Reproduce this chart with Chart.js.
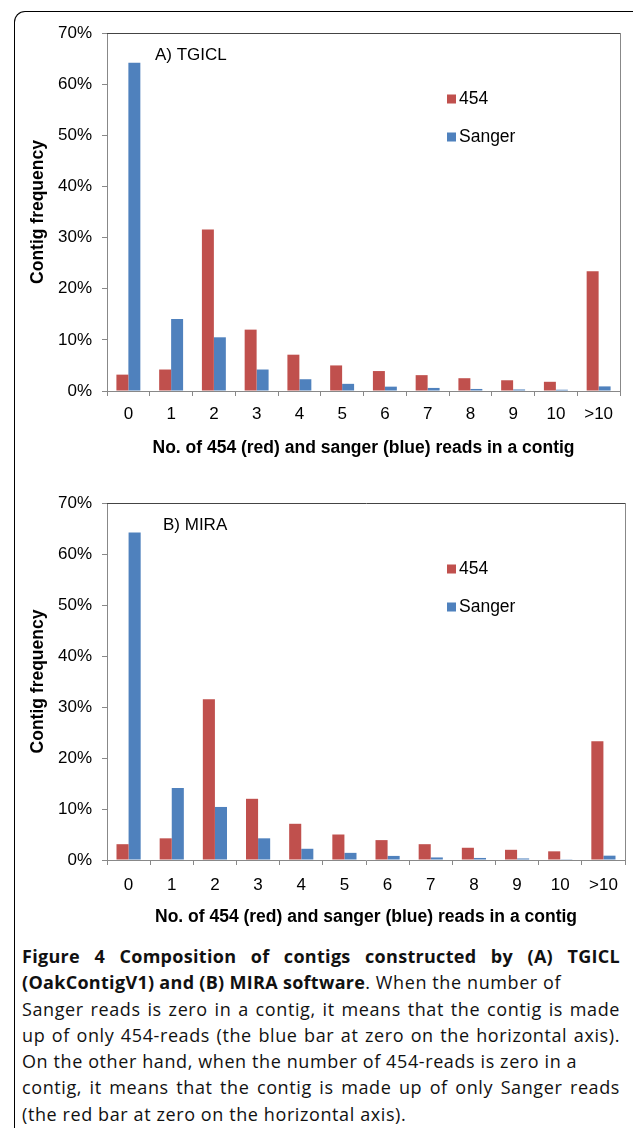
<!DOCTYPE html>
<html>
<head>
<meta charset="utf-8">
<script src="https://cdn.jsdelivr.net/npm/chart.js@4"></script>
<style>
  html, body { margin: 0; padding: 0; background: #fff; }
  body { width: 633px; height: 1128px; position: relative; overflow: hidden; }
  .frame {
    position: absolute; left: 14px; top: 11px; width: 700px; height: 1200px;
    border-top: 1px solid #000; border-left: 1px solid #000;
    border-top-left-radius: 11px; pointer-events: none;
  }
  .panel { position: absolute; left: 0; width: 633px; }
  #panelA { top: 0; height: 470px; }
  #panelB { top: 470px; height: 460px; }
  .caption {
    position: absolute; left: 22px; top: 943px; width: 598px;
    font-family: "Open Sans", "Noto Sans", sans-serif;
    font-size: 18px; line-height: 26.3px; letter-spacing: 0.6px; color: #111;
  }
  .caption div { height: 26.3px; }
  .caption .full { text-align: justify; text-align-last: justify; }
  .caption b { font-weight: 700; letter-spacing: 0.3px; }
</style>
</head>
<body>
<div class="frame"></div>
<div class="panel" id="panelA"><canvas id="chartA"></canvas></div>
<div class="panel" id="panelB"><canvas id="chartB"></canvas></div>
<div class="caption">
  <div class="full"><b>Figure 4 Composition of contigs constructed by (A) TGICL</b></div>
  <div><b>(OakContigV1) and (B) MIRA software</b>. When the number of</div>
  <div class="full">Sanger reads is zero in a contig, it means that the contig is made</div>
  <div class="full">up of only 454-reads (the blue bar at zero on the horizontal axis).</div>
  <div>On the other hand, when the number of 454-reads is zero in a</div>
  <div class="full">contig, it means that the contig is made up of only Sanger reads</div>
  <div>(the red bar at zero on the horizontal axis).</div>
</div>
<script>
// x categories: number of reads in a contig
const categories = ['0', '1', '2', '3', '4', '5', '6', '7', '8', '9', '10', '>10'];
const yTicks = [0, 10, 20, 30, 40, 50, 60, 70];

// A) TGICL, contig frequency in %
const tgicl454 = [3.2, 4.2, 31.6, 12.0, 7.1, 5.0, 3.9, 3.1, 2.5, 2.1, 1.8, 23.4];
const tgiclSanger = [64.2, 14.1, 10.5, 4.2, 2.3, 1.4, 0.85, 0.6, 0.4, 0.3, 0.25, 0.9];

// B) MIRA, contig frequency in %
const mira454 = [3.1, 4.25, 31.5, 12.0, 7.1, 5.0, 3.9, 3.1, 2.4, 2.0, 1.7, 23.3];
const miraSanger = [64.2, 14.1, 10.4, 4.25, 2.2, 1.4, 0.8, 0.5, 0.4, 0.3, 0.05, 0.85];

const RED = '#C0504D';
const BLUE = '#4F81BD';
const FONT = '"Liberation Sans", Arial, sans-serif';

// plot frame, panel label and in-plot legend
const decor = {
  id: 'decor',
  afterDatasetsDraw(chart, args, opts) {
    const { ctx, chartArea: a } = chart;
    ctx.save();
    ctx.lineWidth = 1;
    ctx.strokeStyle = '#444';
    ctx.beginPath();
    ctx.moveTo(a.left, a.top + 0.5);
    ctx.lineTo(a.right + 1, a.top + 0.5);
    ctx.stroke();
    ctx.strokeStyle = '#888';
    ctx.beginPath();
    ctx.moveTo(a.right + 0.5, a.top);
    ctx.lineTo(a.right + 0.5, a.bottom);
    ctx.stroke();

    ctx.fillStyle = '#000';
    ctx.textBaseline = 'middle';
    ctx.font = '17px ' + FONT;
    ctx.fillText(opts.label, opts.labelX, a.top + 22);

    ctx.font = '17.5px ' + FONT;
    chart.data.datasets.forEach((ds, i) => {
      const y = a.top + 66 + i * 38;
      ctx.fillStyle = ds.backgroundColor;
      ctx.fillRect(447, y - 4.5, 9, 9);
      ctx.fillStyle = '#000';
      ctx.fillText(ds.label, 459, y);
    });
    ctx.restore();
  }
};

function makeChart(id, label, labelX, d454, dSanger, g) {
  return new Chart(document.getElementById(id), {
    type: 'bar',
    data: {
      labels: categories,
      datasets: [
        { label: '454', data: d454, backgroundColor: RED },
        { label: 'Sanger', data: dSanger, backgroundColor: BLUE }
      ]
    },
    options: {
      responsive: true,
      maintainAspectRatio: false,
      animation: false,
      devicePixelRatio: 1,
      barPercentage: 1,
      categoryPercentage: 0.56,
      layout: { padding: { top: 33, right: g.right, bottom: 0, left: 0 } },
      plugins: {
        legend: { display: false },
        tooltip: { enabled: false },
        decor: { label, labelX }
      },
      scales: {
        x: {
          afterFit: s => { s.height = g.xHeight; },
          grid: { drawOnChartArea: false, drawTicks: true, tickLength: 5, color: '#888' },
          border: { color: '#888' },
          ticks: { color: '#000', padding: g.xPad, font: { family: FONT, size: 17 } },
          title: {
            display: true,
            text: 'No. of 454 (red) and sanger (blue) reads in a contig',
            color: '#000',
            font: { family: FONT, size: 17.5, weight: 'bold' },
            padding: { top: 0, bottom: g.titlePad }
          }
        },
        y: {
          min: 0,
          max: 70,
          afterFit: s => { s.width = 107; },
          afterBuildTicks: s => { s.ticks = yTicks.map(v => ({ value: v })); },
          grid: { drawOnChartArea: false, drawTicks: true, tickLength: 5, color: '#888' },
          border: { color: '#888' },
          ticks: {
            color: '#000', padding: 10,
            font: { family: FONT, size: 17 },
            callback: v => v + '%'
          },
          title: {
            display: true,
            text: 'Contig frequency',
            color: '#000',
            font: { family: FONT, size: 17.5, weight: 'bold' },
            padding: { top: 27.5, bottom: 0 }
          }
        }
      }
    },
    plugins: [decor]
  });
}

makeChart('chartA', 'A) TGICL', 155, tgicl454, tgiclSanger,
  { right: 13, xHeight: 79, xPad: 8, titlePad: 11.5 });
makeChart('chartB', 'B) MIRA', 163, mira454, miraSanger,
  { right: 8, xHeight: 70, xPad: 10, titlePad: 2.5 });
</script>
</body>
</html>
